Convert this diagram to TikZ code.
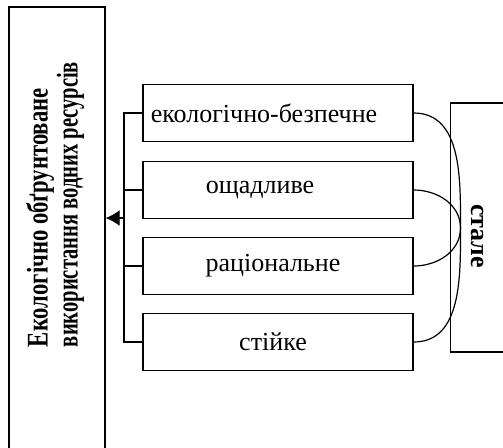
\documentclass[tikz,border=0pt]{standalone}
\usepackage{fontspec}
\setmainfont{Liberation Serif}
\usetikzlibrary{arrows.meta}
\tikzset{
  item/.style={draw, line width=0.7pt, minimum width=135pt, minimum height=28.5pt, inner sep=0pt, font=\fontsize{13}{15}\selectfont},
  frame/.style={draw, line width=0.7pt, inner sep=0pt}
}
\begin{document}
\begin{tikzpicture}[x=0.5pt,y=0.5pt]
\useasboundingbox (0,0) rectangle (503,447);
\clip (0,0) rectangle (503,447);

%Hauptblock links
\node[frame, minimum width=48pt, minimum height=232.5pt] (main) at (57,207.5) {};
\node[rotate=90, align=left, font=\bfseries\fontsize{15}{15}\selectfont] (mainlabel) at (55,242.5) {\scalebox{0.755}[1]{Екологічно обґрунтоване}\\\scalebox{0.685}[1]{використання водних ресурсів}};

%Merkmale
\node[item] (eco) at (278,334) {екологічно-безпечне\hspace*{14pt}};
\node[item] (save) at (278,257) {ощадливе\hspace*{18pt}};
\node[item] (rat) at (278,181) {раціональне\hspace*{5pt}};
\node[item] (stab) at (278,105) {стійке\hspace*{5pt}};

%Block rechts
\node[frame, minimum width=27pt, minimum height=124.5pt] (sust) at (477.5,219.5) {};
\node[rotate=-90, font=\bfseries\fontsize{13}{15}\selectfont] (sustlabel) at (477,211) {стале};

%Klammer
\coordinate (bar) at (124,229);
\draw[line width=0.7pt] (eco.west) -| (bar) |- (stab.west);
\draw[line width=0.7pt] (save.west) -- (save.west -| bar);
\draw[line width=0.7pt] (rat.west) -- (rat.west -| bar);
\draw[line width=0.7pt,-{Latex[length=7pt,width=8pt]}] (bar) -- (bar -| main.east);

%Boegen
\coordinate (apex) at (460.5,219);
\draw[line width=0.6pt] (eco.east) to[out=0,in=90] (apex) to[out=-90,in=0] (stab.east);
\draw[line width=0.6pt] (save.east) to[out=0,in=90] (apex) to[out=-90,in=0] (rat.east);
\end{tikzpicture}
\end{document}
